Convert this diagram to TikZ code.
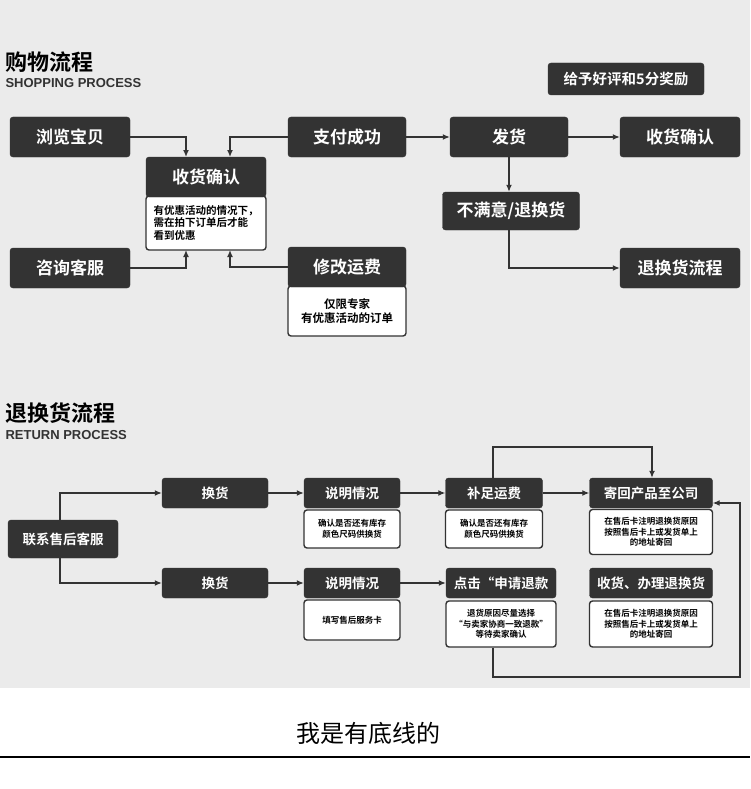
\documentclass[tikz,border=0pt]{standalone}
\usepackage{fontspec}
\newfontfamily\cjk{Noto Sans CJK SC}[BoldFont={Noto Sans CJK SC Bold}]
\setmainfont{Liberation Sans}
\begin{document}
\begin{tikzpicture}[x=1pt,y=-1pt,
  dk/.style={fill=dkc,draw=dkc,rounded corners=3pt,text=white,font=\cjk\bfseries\fontsize{17}{19}\selectfont,inner sep=0pt},
  sdk/.style={dk,font=\cjk\bfseries\fontsize{13.5}{15}\selectfont},
  wb/.style={fill=white,draw=dkc,line width=1.4pt,rounded corners=3pt,font=\cjk\bfseries\fontsize{10.5}{12.5}\selectfont,align=center,inner sep=0pt},
  sw/.style={wb,font=\cjk\bfseries\fontsize{8.5}{10.5}\selectfont},
  ln/.style={draw=dkc,line width=1.3pt},
  ar/.style={ln,-{Latex[length=7pt,width=6pt]}}]
\definecolor{dkc}{HTML}{333333}
\definecolor{bg}{HTML}{EBEBEB}
\usetikzlibrary{arrows.meta}
\useasboundingbox (0,0) rectangle (750,789);
\fill[bg] (0,0) rectangle (750,688);
% titles
\node[anchor=west,font=\cjk\bfseries\fontsize{22}{24}\selectfont] (t1) at (2,62) {购物流程};
\node[anchor=west,font=\bfseries\fontsize{13}{14}\selectfont,text=dkc] (t1e) at (2,83) {SHOPPING PROCESS};
\node[anchor=west,font=\cjk\bfseries\fontsize{22}{24}\selectfont] (t2) at (2,413) {退换货流程};
\node[anchor=west,font=\bfseries\fontsize{13}{14}\selectfont,text=dkc] (t2e) at (2,435) {RETURN PROCESS};
\node[sdk,minimum width=156,minimum height=32,font=\cjk\bfseries\fontsize{14.5}{16}\selectfont] (hp) at (626,79) {给予好评和5分奖励};
% top section
\node[dk,minimum width=120,minimum height=40] (ll) at (70,137) {浏览宝贝};
\node[dk,minimum width=118,minimum height=40] (zf) at (347,137) {支付成功};
\node[dk,minimum width=118,minimum height=40] (fh) at (509,137) {发货};
\node[dk,minimum width=120,minimum height=40] (sq2) at (680,137) {收货确认};
\node[wb,minimum width=120,minimum height=54,align=left] (sqw) at (206,223) {有优惠活动的情况下，\\需在拍下订单后才能\\看到优惠};
\node[dk,minimum width=120,minimum height=40] (sq) at (206,177) {收货确认};
\node[dk,minimum width=120,minimum height=40] (zx) at (70,268) {咨询客服};
\node[wb,minimum width=118,minimum height=50,font=\cjk\bfseries\fontsize{11.5}{13.5}\selectfont] (xgw) at (347,311) {仅限专家\\有优惠活动的订单};
\node[dk,minimum width=118,minimum height=40] (xg) at (347,267) {修改运费};
\node[dk,minimum width=137,minimum height=38] (bm) at (511,211) {不满意/退换货};
\node[dk,minimum width=120,minimum height=40] (th) at (680,268) {退换货流程};
\draw[ar] (ll.east) -| (186,157);
\draw[ar] (zf.west) -| (230,157);
\draw[ar] (zx.east) -| (186,250);
\draw[ar] (xg.west) -| (230,250);
\draw[ar] (zf) -- (fh);
\draw[ar] (fh) -- (sq2);
\draw[ar] (fh.south) -- (bm.north -| fh.south);
\draw[ar] (bm.south -| fh.south) |- (th.west);
% bottom section
\node[sdk,minimum width=110,minimum height=38] (lx) at (63,539) {联系售后客服};
\node[sdk,minimum width=106,minimum height=30] (h1) at (215,493) {换货};
\node[sdk,minimum width=96,minimum height=30] (s1) at (352,493) {说明情况};
\node[sdk,minimum width=97,minimum height=30] (b1) at (494,493) {补足运费};
\node[sdk,minimum width=123,minimum height=30] (j1) at (651,493) {寄回产品至公司};
\node[sw,minimum width=96,minimum height=38] (s1w) at (352,529) {确认是否还有库存\\颜色尺码供换货};
\node[sw,minimum width=97,minimum height=38] (b1w) at (494,529) {确认是否还有库存\\颜色尺码供换货};
\node[sw,minimum width=123,minimum height=45] (j1w) at (651,532) {在售后卡注明退换货原因\\按照售后卡上或发货单上\\的地址寄回};
\node[sdk,minimum width=106,minimum height=30] (h2) at (215,583) {换货};
\node[sdk,minimum width=96,minimum height=30] (s2) at (352,583) {说明情况};
\node[sdk,minimum width=110,minimum height=30] (d2) at (501,583) {点击“申请退款};
\node[sdk,minimum width=123,minimum height=30] (r2) at (651,583) {收货、办理退换货};
\node[sw,minimum width=96,minimum height=40] (s2w) at (352,620) {填写售后服务卡};
\node[sw,minimum width=110,minimum height=46] (d2w) at (501,624) {退货原因尽量选择\\“与卖家协商一致退款”\\等待卖家确认};
\node[sw,minimum width=123,minimum height=46] (r2w) at (651,624) {在售后卡注明退换货原因\\按照售后卡上或发货单上\\的地址寄回};
\draw[ar] (60,520) |- (h1.west);
\draw[ar] (60,558) |- (h2.west);
\draw[ar] (h1) -- (s1);
\draw[ar] (s1) -- (b1);
\draw[ar] (b1) -- (j1);
\draw[ar] (h2) -- (s2);
\draw[ar] (s2) -- (d2);
\coordinate (c1) at (652,447);
\draw[ar] (b1.north -| 493,0) |- (c1) -- (j1.north -| c1);
\coordinate (c2) at (740,677);
\draw[ar] (d2w.south -| 493,0) |- (c2) |- (j1.east |- 0,503);
% footer
\node[font=\cjk\fontsize{24}{26}\selectfont] (ft) at (368,733) {我是有底线的};
\draw[line width=1.5pt] (0,757) -- (750,757);
\end{tikzpicture}
\end{document}
